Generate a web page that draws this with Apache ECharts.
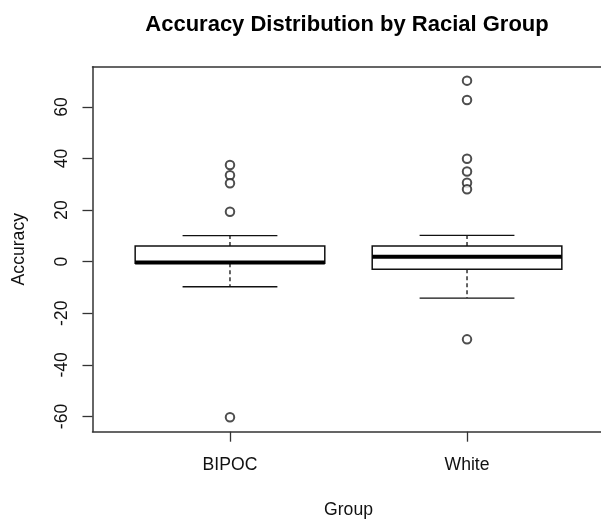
<!DOCTYPE html>
<html>
<head>
<meta charset="utf-8">
<script src="https://cdn.jsdelivr.net/npm/echarts@6/dist/echarts.min.js"></script>
<style>
  html, body { margin: 0; padding: 0; background: #fff; }
  #chart { width: 601px; height: 519px; }
</style>
</head>
<body>
<div id="chart"></div>
<script>
// box statistics
const groups = ['BIPOC', 'White']
const lowerWhisker = [-9.7, -14.1]
const q1 = [-0.6, -2.9]
const median = [-0.3, 1.9]
const q3 = [6.1, 6.1]
const upperWhisker = [10.1, 10.2]
const bipocOutliers = [37.5, 33.5, 30.4, 19.4, -60.3]
const whiteOutliers = [70.2, 62.7, 39.9, 35.0, 30.6, 28.1, -30.1]
const yTicks = [-60, -40, -20, 0, 20, 40, 60]

const font = "'Liberation Sans', Arial, sans-serif"
const frame = { show: true, onZero: false, lineStyle: { color: '#333', width: 1.5 } }

const boxData = groups.map((g, i) => [i + 1, lowerWhisker[i], q1[i], median[i], q3[i], upperWhisker[i]])
const outlierData = []
bipocOutliers.forEach(v => outlierData.push([1, v]))
whiteOutliers.forEach(v => outlierData.push([2, v]))

function renderBox(params, api) {
  const x = api.value(0)
  const low = api.coord([x, api.value(1)])
  const b1 = api.coord([x, api.value(2)])
  const med = api.coord([x, api.value(3)])
  const b3 = api.coord([x, api.value(4)])
  const high = api.coord([x, api.value(5)])
  const halfW = api.size([0.4, 0])[0]
  const halfCap = halfW / 2
  const cx = low[0]
  const stroke = '#111'
  return {
    type: 'group',
    children: [
      { type: 'line', shape: { x1: cx, y1: b3[1], x2: cx, y2: high[1] }, style: { stroke: stroke, lineWidth: 1.3, lineDash: [4, 3] } },
      { type: 'line', shape: { x1: cx, y1: b1[1], x2: cx, y2: low[1] }, style: { stroke: stroke, lineWidth: 1.3, lineDash: [4, 3] } },
      { type: 'line', shape: { x1: cx - halfCap, y1: high[1], x2: cx + halfCap, y2: high[1] }, style: { stroke: stroke, lineWidth: 1.3 } },
      { type: 'line', shape: { x1: cx - halfCap, y1: low[1], x2: cx + halfCap, y2: low[1] }, style: { stroke: stroke, lineWidth: 1.3 } },
      { type: 'rect', shape: { x: cx - halfW, y: b3[1], width: 2 * halfW, height: b1[1] - b3[1] }, style: { fill: '#fff', stroke: stroke, lineWidth: 1.5 } },
      { type: 'line', shape: { x1: cx - halfW, y1: med[1], x2: cx + halfW, y2: med[1] }, style: { stroke: '#000', lineWidth: 4 } }
    ]
  }
}

const chart = echarts.init(document.getElementById('chart'))
chart.setOption({
  animation: false,
  backgroundColor: '#fff',
  textStyle: { fontFamily: font },
  title: {
    text: 'Accuracy Distribution by Racial Group',
    left: 342,
    top: 9,
    textAlign: 'center',
    textStyle: { fontFamily: font, fontSize: 22, fontWeight: 'bold', color: '#000' }
  },
  grid: {
    left: 92.5,
    top: 66.7,
    width: 512,
    height: 365,
    containLabel: false,
    outerBoundsMode: 'none',
    show: false
  },
  xAxis: [
    {
      type: 'value',
      min: 0.42,
      max: 2.58,
      name: 'Group',
      nameLocation: 'middle',
      nameGap: 69,
      nameTextStyle: { fontFamily: font, fontSize: 17.6, color: '#111' },
      splitLine: { show: false },
      axisLine: frame,
      axisTick: { show: true, customValues: [1, 2], length: 10, lineStyle: { color: '#333', width: 1.3 } },
      axisLabel: {
        customValues: [1, 2],
        formatter: v => groups[Math.round(v) - 1],
        fontFamily: font,
        fontSize: 17.6,
        color: '#111',
        margin: 24
      }
    },
    {
      // top edge of the frame
      type: 'value',
      position: 'top',
      min: 0.42,
      max: 2.58,
      splitLine: { show: false },
      axisLine: frame,
      axisTick: { show: false },
      axisLabel: { show: false }
    }
  ],
  yAxis: {
    type: 'value',
    min: -65.9,
    max: 75.6,
    name: 'Accuracy',
    nameLocation: 'middle',
    nameGap: 64,
    nameRotate: 90,
    nameTextStyle: { fontFamily: font, fontSize: 17.6, color: '#111' },
    splitLine: { show: false },
    axisLine: frame,
    axisTick: { show: true, customValues: yTicks, length: 10, lineStyle: { color: '#333', width: 1.3 } },
    axisLabel: {
      customValues: yTicks,
      rotate: 90,
      fontFamily: font,
      fontSize: 17.6,
      color: '#111',
      margin: 21
    }
  },
  series: [
    {
      type: 'custom',
      renderItem: renderBox,
      data: boxData,
      encode: { x: 0, y: [1, 2, 3, 4, 5] },
      clip: false
    },
    {
      type: 'scatter',
      data: outlierData,
      symbol: 'emptyCircle',
      symbolSize: 8.5,
      itemStyle: { color: '#222', borderColor: '#222', borderWidth: 1 },
      z: 3
    }
  ]
})
</script>
</body>
</html>
